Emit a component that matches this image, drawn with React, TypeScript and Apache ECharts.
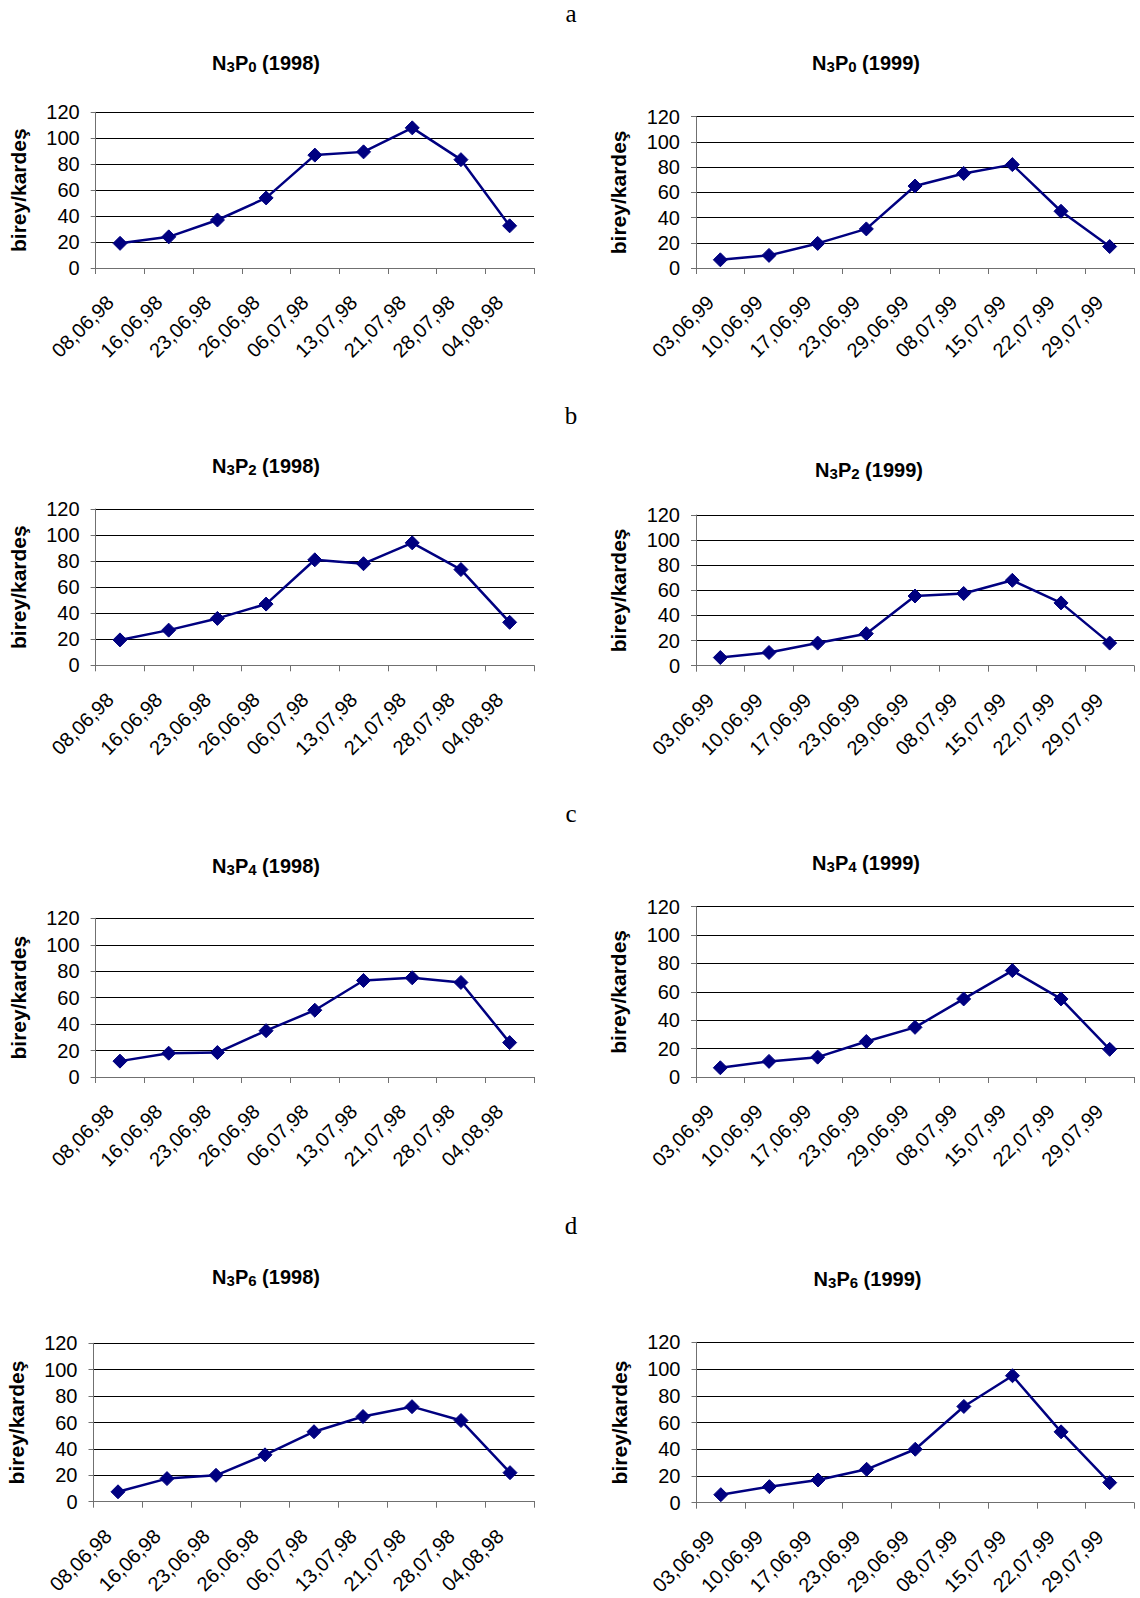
import React, { useEffect, useRef } from "react";
import * as echarts from "echarts";

const CATS_1998 = ["08,06,98", "16,06,98", "23,06,98", "26,06,98", "06,07,98", "13,07,98", "21,07,98", "28,07,98", "04,08,98"];
const CATS_1999 = ["03,06,99", "10,06,99", "17,06,99", "23,06,99", "29,06,99", "08,07,99", "15,07,99", "22,07,99", "29,07,99"];

const P0_1998 = [19, 24, 37, 54, 87, 89.5, 108, 83.5, 32.5];
const P0_1999 = [6.5, 10, 19.5, 31, 65, 75, 82, 45, 17];
const P2_1998 = [19.5, 27, 36, 47, 81, 78, 94, 73.5, 33];
const P2_1999 = [6.5, 10.5, 18, 25.5, 55.5, 57.5, 68, 50, 18];
const P4_1998 = [12, 18, 18.5, 35, 50.5, 73, 75, 71.5, 26];
const P4_1999 = [6.5, 11, 14, 25, 35, 55, 75, 55, 19.5];
const P6_1998 = [7.5, 17.5, 20, 35.5, 53, 64.5, 72, 61.5, 22];
const P6_1999 = [6, 12, 17, 25, 40, 72, 95, 53, 15];

const Y_MIN = 0;
const Y_MAX = 120;
const Y_STEP = 20;
const Y_NAME = "birey/kardeş";
const SECTION_LABELS = ["a", "b", "c", "d"];

type Panel = {
  p: string;
  year: string;
  cats: string[];
  values: number[];
  grid: { left: number; top: number; width: number; height: number };
  title: { x: number; y: number };
};

const PANELS: Panel[] = [
  { p: "0", year: "1998", cats: CATS_1998, values: P0_1998, grid: { left: 95.7, top: 112.3, width: 438.3, height: 155.7 }, title: { x: 266, y: 63 } },
  { p: "0", year: "1999", cats: CATS_1999, values: P0_1999, grid: { left: 696, top: 116.7, width: 438, height: 151.3 }, title: { x: 866, y: 63 } },
  { p: "2", year: "1998", cats: CATS_1998, values: P2_1998, grid: { left: 95.6, top: 509, width: 438.4, height: 156.3 }, title: { x: 266, y: 465.5 } },
  { p: "2", year: "1999", cats: CATS_1999, values: P2_1999, grid: { left: 696, top: 515, width: 438, height: 150.7 }, title: { x: 869, y: 470 } },
  { p: "4", year: "1998", cats: CATS_1998, values: P4_1998, grid: { left: 95.6, top: 918.3, width: 438.4, height: 158.7 }, title: { x: 266, y: 865.5 } },
  { p: "4", year: "1999", cats: CATS_1999, values: P4_1999, grid: { left: 696, top: 906.7, width: 438, height: 170.3 }, title: { x: 866, y: 863 } },
  { p: "6", year: "1998", cats: CATS_1998, values: P6_1998, grid: { left: 93.5, top: 1343.3, width: 441, height: 158.4 }, title: { x: 266, y: 1276.5 } },
  { p: "6", year: "1999", cats: CATS_1999, values: P6_1999, grid: { left: 696.5, top: 1342.3, width: 437.5, height: 160.4 }, title: { x: 867.5, y: 1279 } },
];

const SECTION_POS = [
  { x: 571, y: 13 },
  { x: 571, y: 415 },
  { x: 571, y: 813 },
  { x: 571, y: 1225 },
];

const SANS = "Liberation Sans, Arial, sans-serif";
const SERIF = "Liberation Serif, Times New Roman, serif";
const NAVY = "#000080";
const AXIS_COLOR = "#707070";

export default function App() {
  const ref = useRef<HTMLDivElement>(null);

  useEffect(() => {
    if (!ref.current) return;
    const chart = echarts.init(ref.current, null, { renderer: "svg" });

    const grids = PANELS.map((pn) => ({ ...pn.grid, containLabel: false }));
    const xAxes = PANELS.map((pn, i) => ({
      type: "category",
      gridIndex: i,
      data: pn.cats,
      boundaryGap: true,
      axisLine: { show: true, lineStyle: { color: AXIS_COLOR, width: 1 } },
      axisTick: { show: true, length: 6, alignWithLabel: false, interval: 0, lineStyle: { color: AXIS_COLOR } },
      axisLabel: {
        interval: 0,
        rotate: 45,
        margin: 21,
        padding: [0, 14, 0, 0],
        fontSize: 20,
        color: "#000",
        fontFamily: SANS,
      },
      splitLine: { show: false },
    }));
    const yAxes = PANELS.map((pn, i) => ({
      type: "value",
      gridIndex: i,
      min: Y_MIN,
      max: Y_MAX,
      interval: Y_STEP,
      name: Y_NAME,
      nameLocation: "middle",
      nameGap: 67,
      nameTextStyle: { fontSize: 21, fontWeight: "bold", color: "#000", fontFamily: SANS },
      axisLine: { show: true, lineStyle: { color: AXIS_COLOR, width: 1 } },
      axisTick: { show: true, length: 5, lineStyle: { color: AXIS_COLOR } },
      axisLabel: { margin: 16, fontSize: 20, color: "#000", fontFamily: SANS },
      splitLine: { show: true, lineStyle: { color: "#000", width: 1 } },
    }));
    const series = PANELS.map((pn, i) => ({
      type: "line",
      xAxisIndex: i,
      yAxisIndex: i,
      data: pn.values,
      symbol: "diamond",
      symbolSize: 14,
      showSymbol: true,
      lineStyle: { color: NAVY, width: 2.5 },
      itemStyle: { color: NAVY, borderColor: NAVY },
      z: 3,
    }));
    const titles = PANELS.map((pn) => ({
      text: `{m|N}{s|3}{m|P}{s|${pn.p}}{m| (${pn.year})}`,
      left: pn.title.x,
      top: pn.title.y,
      textAlign: "center",
      textVerticalAlign: "middle",
      padding: 0,
      textStyle: {
        fontSize: 20,
        fontWeight: "bold",
        color: "#000",
        fontFamily: SANS,
        rich: {
          m: { fontSize: 20, fontWeight: "bold", color: "#000", fontFamily: SANS, lineHeight: 22 },
          s: { fontSize: 15, fontWeight: "bold", color: "#000", fontFamily: SANS, lineHeight: 8, verticalAlign: "bottom" },
        },
      },
    }));
    const graphic = SECTION_LABELS.map((t, i) => ({
      type: "text",
      x: SECTION_POS[i].x,
      y: SECTION_POS[i].y,
      style: { text: t, font: `25px ${SERIF}`, fill: "#000", textAlign: "center", textVerticalAlign: "middle" },
    }));

    chart.setOption({
      animation: false,
      backgroundColor: "#fff",
      title: titles,
      grid: grids,
      xAxis: xAxes,
      yAxis: yAxes,
      series,
      graphic,
    });

    return () => chart.dispose();
  }, []);

  return <div ref={ref} style={{ position: "absolute", left: 0, top: 0, width: 1140, height: 1598 }} />;
}
